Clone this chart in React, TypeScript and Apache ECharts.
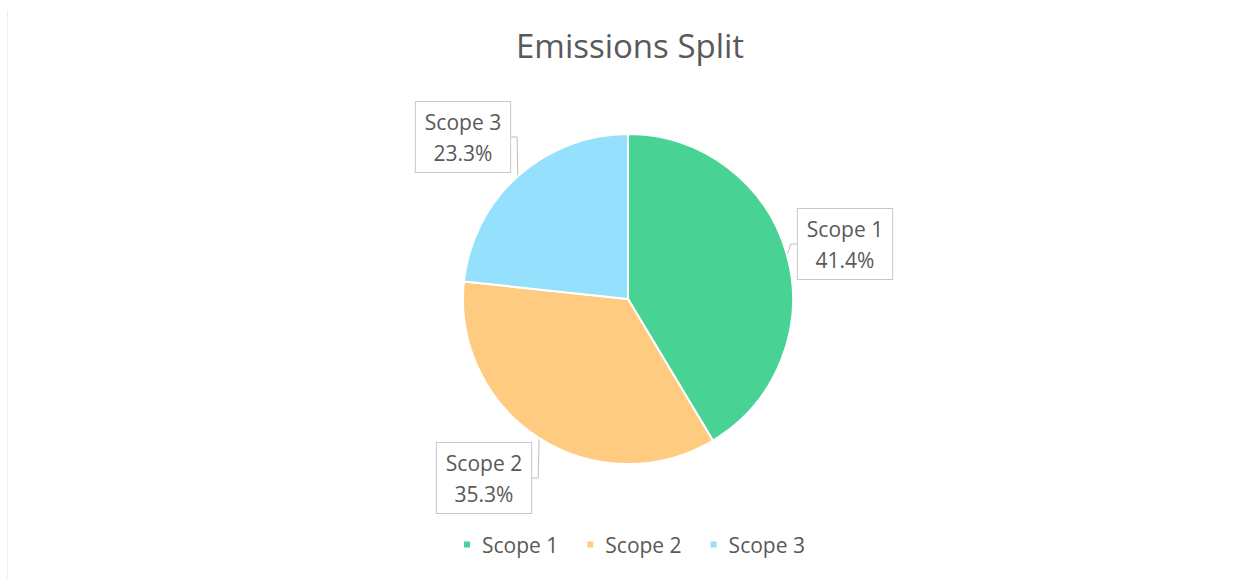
import React, { useEffect, useRef } from "react";
import * as echarts from "echarts";

const title = "Emissions Split";
const categories = ["Scope 1", "Scope 2", "Scope 3"];
const shares = [41.4, 35.3, 23.3];
const colors = ["#48D394", "#FFCB80", "#95E1FD"];

const labelCenters: [number, number][] = [
  [845, 244],
  [484, 478],
  [463, 137],
];

export default function App() {
  const ref = useRef<HTMLDivElement>(null);
  useEffect(() => {
    document.body.style.margin = "0";
    const chart = echarts.init(ref.current!, null, { renderer: "svg" });
    const font = "'Open Sans', 'Noto Sans', sans-serif";
    chart.setOption({
      animation: false,
      backgroundColor: "#ffffff",
      title: {
        text: title,
        left: 516,
        top: 29,
        padding: 0,
        textStyle: { fontFamily: font, fontSize: 33, fontWeight: "normal", color: "#595959" },
      },
      legend: {
        top: 534,
        left: 462,
        padding: 0,
        itemWidth: 8,
        itemHeight: 8,
        itemGap: 27,
        icon: "rect",
        data: categories,
        textStyle: { fontFamily: font, fontSize: 21, color: "#595959", padding: [0, 0, 0, 6] },
      },
      graphic: [
        {
          type: "line",
          shape: { x1: 7.5, y1: 10, x2: 7.5, y2: 578 },
          style: { stroke: "#eeeeee", lineWidth: 1 },
        },
      ],
      series: [
        {
          type: "pie",
          center: [628, 299],
          radius: 165,
          startAngle: 90,
          clockwise: true,
          percentPrecision: 1,
          itemStyle: { borderColor: "#ffffff", borderWidth: 2 },
          data: categories.map((c, i) => ({
            name: c,
            value: shares[i],
            itemStyle: { color: colors[i] },
          })),
          label: {
            show: true,
            position: "outside",
            formatter: "{b}\n{d}%",
            fontFamily: font,
            fontSize: 21,
            lineHeight: 31,
            color: "#595959",
            backgroundColor: "#ffffff",
            borderColor: "#c8c8c8",
            borderWidth: 1,
            padding: [4, 9],
            align: "center",
          },
          labelLine: {
            show: true,
            length: 6,
            length2: 6,
            lineStyle: { color: "#bfbfbf", width: 1 },
          },
          labelLayout: (params: any) => {
            const p = labelCenters[params.dataIndex];
            return { x: p[0], y: p[1], align: "center", verticalAlign: "middle" };
          },
        },
      ],
    });
    return () => chart.dispose();
  }, []);
  return <div ref={ref} style={{ width: 1245, height: 578 }} />;
}
